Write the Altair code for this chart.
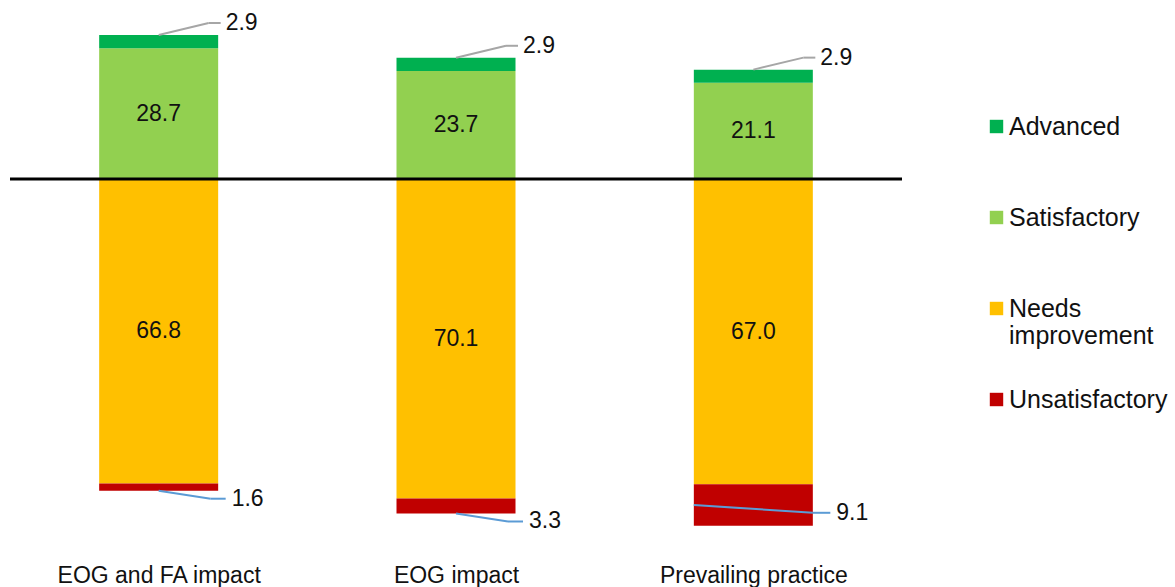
import altair as alt
import pandas as pd

# Share of students at each rating level, by evaluation approach (%)
categories = ["EOG and FA impact", "EOG impact", "Prevailing practice"]
advanced = [2.9, 2.9, 2.9]
satisfactory = [28.7, 23.7, 21.1]
needs_improvement = [66.8, 70.1, 67.0]
unsatisfactory = [1.6, 3.3, 9.1]

levels = ["Advanced", "Satisfactory", "Needs improvement", "Unsatisfactory"]
level_colors = ["#00B050", "#92D050", "#FFC000", "#C00000"]

FONT = "Liberation Sans"
INK = "#111111"

# Diverging stack: passing levels above zero, failing levels below
rows = []
for i, cat in enumerate(categories):
    s, a = satisfactory[i], advanced[i]
    n, u = needs_improvement[i], unsatisfactory[i]
    rows += [
        dict(idx=i, category=cat, level="Satisfactory", lo=0.0, hi=s, value=s),
        dict(idx=i, category=cat, level="Advanced", lo=s, hi=s + a, value=a),
        dict(idx=i, category=cat, level="Needs improvement", lo=-n, hi=0.0, value=n),
        dict(idx=i, category=cat, level="Unsatisfactory", lo=-n - u, hi=-n, value=u),
    ]
bars = pd.DataFrame(rows)
bars["mid"] = (bars["lo"] + bars["hi"]) / 2
bars["label"] = bars["value"].map(lambda v: f"{v:.1f}")

x_scale = alt.Scale(domain=[-0.5, len(categories) - 0.5], nice=False, zero=False, padding=0)
y_scale = alt.Scale(domain=[-81.85, 39.28], nice=False, zero=False, padding=0)

names_js = "[" + ",".join(f"'{c}'" for c in categories) + "]"
x_axis = alt.Axis(
    values=list(range(len(categories))),
    labelExpr=f"{names_js}[datum.value]",
    title=None, domain=False, ticks=False, grid=False,
    labelFontSize=23, labelFont=FONT, labelColor=INK,
    labelPadding=12, labelLimit=0, labelOverlap=False,
)

base = alt.Chart(bars)
X = alt.X("idx:Q", scale=x_scale, axis=x_axis)
Y_hi = alt.Y("hi:Q", scale=y_scale, axis=None)
Y_lo = alt.Y("lo:Q", scale=y_scale, axis=None)
Y_mid = alt.Y("mid:Q", scale=y_scale, axis=None)

stack = base.mark_bar(size=119).encode(
    x=X,
    y=Y_lo,
    y2="hi:Q",
    color=alt.Color(
        "level:N",
        scale=alt.Scale(domain=levels, range=level_colors),
        legend=alt.Legend(
            title=None, orient="none", legendX=974, legendY=114,
            symbolType="square", symbolSize=180, symbolStrokeWidth=0,
            labelFontSize=25, labelFont=FONT, labelColor=INK,
            labelOffset=0, rowPadding=38, gridAlign="all", labelLimit=0,
            labelExpr="datum.label == 'Needs improvement' ? ['Needs', 'improvement'] : datum.label",
        ),
    ),
)

inner = base.transform_filter(
    "datum.level == 'Satisfactory' || datum.level == 'Needs improvement'"
).mark_text(fontSize=23, font=FONT, color=INK).encode(x=X, y=Y_mid, text="label:N")

zero_line = alt.Chart(pd.DataFrame({"v": [0.0]})).mark_rule(
    color="black", strokeWidth=3
).encode(y=alt.Y("v:Q", scale=y_scale, axis=None))

# Callouts for the thin Advanced segments on top
GREY = "#A6A6A6"
top = base.transform_filter("datum.level == 'Advanced'")
top_diag = top.mark_rule(color=GREY, strokeWidth=2, x2Offset=50, y2Offset=-12).encode(
    x=X, x2="idx:Q", y=Y_hi, y2="hi:Q"
)
top_flat = top.mark_rule(
    color=GREY, strokeWidth=2, xOffset=50, x2Offset=62, yOffset=-12, y2Offset=-12
).encode(x=X, x2="idx:Q", y=Y_hi, y2="hi:Q")
top_text = top.mark_text(
    align="left", baseline="middle", dx=67, dy=-12, fontSize=23, font=FONT, color=INK
).encode(x=X, y=Y_hi, text="label:N")

# Callouts for the Unsatisfactory segments below
LEADER = "#5B9BD5"
thin = base.transform_filter("datum.level == 'Unsatisfactory' && datum.value < 5")
thin_diag = thin.mark_rule(color=LEADER, strokeWidth=2, x2Offset=52, y2Offset=8).encode(
    x=X, x2="idx:Q", y=Y_lo, y2="lo:Q"
)
thin_flat = thin.mark_rule(
    color=LEADER, strokeWidth=2, xOffset=52, x2Offset=67, yOffset=8, y2Offset=8
).encode(x=X, x2="idx:Q", y=Y_lo, y2="lo:Q")
thin_text = thin.mark_text(
    align="left", baseline="middle", dx=73, dy=8, fontSize=23, font=FONT, color=INK
).encode(x=X, y=Y_lo, text="label:N")

wide = base.transform_filter("datum.level == 'Unsatisfactory' && datum.value >= 5")
wide_diag = wide.mark_rule(
    color=LEADER, strokeWidth=2, xOffset=-59.5, x2Offset=59.5, y2Offset=-13
).encode(x=X, x2="idx:Q", y=Y_mid, y2="lo:Q")
wide_flat = wide.mark_rule(
    color=LEADER, strokeWidth=2, xOffset=59.5, x2Offset=77, yOffset=-13, y2Offset=-13
).encode(x=X, x2="idx:Q", y=Y_lo, y2="lo:Q")
wide_text = wide.mark_text(
    align="left", baseline="middle", dx=83, dy=-13, fontSize=23, font=FONT, color=INK
).encode(x=X, y=Y_lo, text="label:N")

chart = alt.layer(
    stack, inner, zero_line,
    top_diag, top_flat, top_text,
    thin_diag, thin_flat, thin_text,
    wide_diag, wide_flat, wide_text,
).properties(
    width=892, height=552,
    background="white",
    autosize=alt.AutoSizeParams(type="none"),
    padding={"left": 10, "top": 0, "right": 273, "bottom": 35},
).configure_view(strokeWidth=0)

chart.save("out.html", embed_options={"renderer": "svg", "actions": False})
